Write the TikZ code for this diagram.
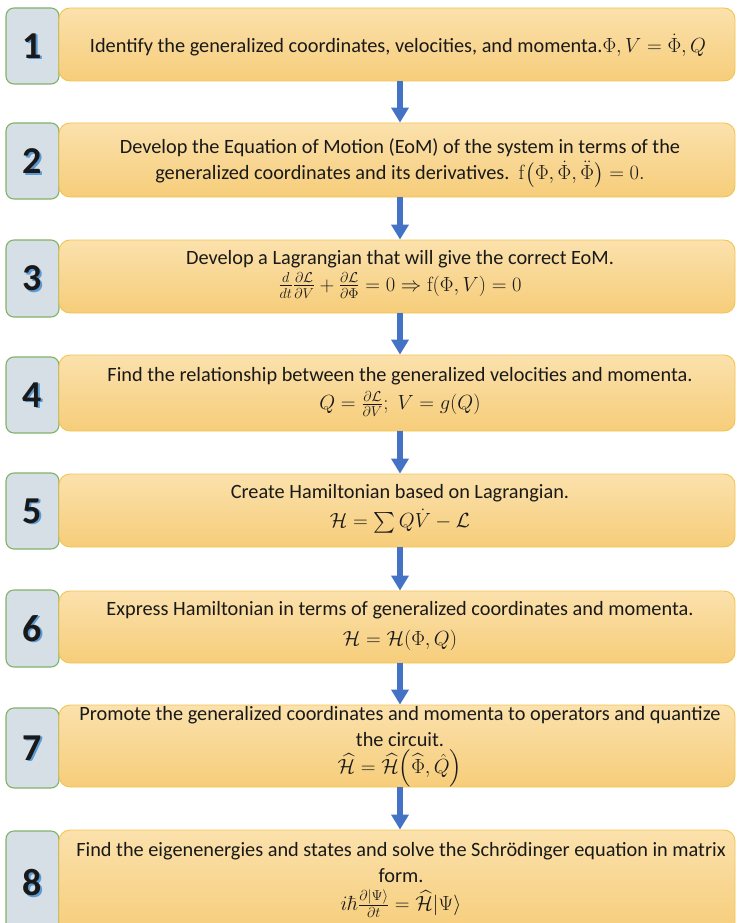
\RequirePackage{fix-cm}
\documentclass[tikz,border=0pt]{standalone}
\usepackage{exscale}
\usepackage[no-math]{fontspec}
\setmainfont{Carlito}
\usetikzlibrary{arrows.meta}

\definecolor{numfill}{RGB}{214,223,230}
\definecolor{numedge}{RGB}{130,178,104}
\definecolor{steptop}{RGB}{251,225,172}
\definecolor{stepbot}{RGB}{246,205,122}
\definecolor{stepedge}{RGB}{243,196,80}
\definecolor{flowblue}{RGB}{68,114,196}
\definecolor{digitshadow}{RGB}{91,155,213}
\definecolor{ink}{RGB}{25,25,25}

% formulas are set a little larger than the running text
\newcommand\eqn[1]{{\fontsize{20.5}{26}\selectfont$#1$}}

\tikzset{
  numbox/.style={draw=numedge, fill=numfill, line width=1.1pt, rounded corners=8pt,
                 minimum width=53pt, inner sep=0pt},
  stepbox/.style={draw=stepedge, top color=steptop, bottom color=stepbot, line width=0.9pt,
                  rounded corners=11pt, minimum width=676pt, inner sep=0pt},
  digit/.style={font=\fontsize{38}{38}\selectfont\bfseries, text=ink, inner sep=0pt},
  digitshade/.style={digit, text=digitshadow},
  steptext/.style={font=\fontsize{20.3}{26}\selectfont, text=ink, align=center, inner sep=0pt},
  flow/.style={draw=flowblue, line width=6pt, -{Triangle[width=17pt,length=15pt]}},
}

\begin{document}
\begin{tikzpicture}[x=1pt,y=-1pt]
\useasboundingbox (0,0) rectangle (736,923);

% number tabs
\node[numbox, minimum height=76pt] (n1) at (32.5,46) {};
\node[numbox, minimum height=76pt] (n2) at (32.5,161) {};
\node[numbox, minimum height=77pt] (n3) at (32.5,278.5) {};
\node[numbox, minimum height=76pt] (n4) at (32.5,395) {};
\node[numbox, minimum height=76pt] (n5) at (32.5,511) {};
\node[numbox, minimum height=77pt] (n6) at (32.5,628.5) {};
\node[numbox, minimum height=80pt] (n7) at (32.5,748) {};
\node[numbox, minimum height=103pt] (n8) at (32.5,882.5) {};

% step panels
\node[stepbox, minimum height=73pt] (t1) at (397,44.5) {};
\node[stepbox, minimum height=74pt] (t2) at (397,160) {};
\node[stepbox, minimum height=73pt] (t3) at (397,276.5) {};
\node[stepbox, minimum height=76pt] (t4) at (397,393) {};
\node[stepbox, minimum height=73pt] (t5) at (397,510.5) {};
\node[stepbox, minimum height=72pt] (t6) at (397,627) {};
\node[stepbox, minimum height=82pt] (t7) at (397,746) {};
\node[stepbox, minimum height=104pt] (t8) at (397,882) {};

% step numbers with their blue drop shadow
\foreach \k in {1,...,8}{
  \node[digitshade] (s\k) at ([xshift=1.6pt,yshift=-1.6pt]n\k.center) {\k};
  \node[digit] (d\k) at (n\k.center) {\k};
}

% step descriptions
\node[steptext] (l1) at (398,45)
  {Identify the generalized coordinates, velocities, and momenta.\eqn{\Phi, V=\dot{\Phi}, Q}};
\node[steptext] (l2) at (400,163)
  {Develop the Equation of Motion (EoM) of the system in terms of the\\
   generalized coordinates and its derivatives.\ \ \eqn{\mathrm{f}\!\left(\Phi,\dot{\Phi},\ddot{\Phi}\right)=0.}};
\node[steptext] (l3) at (400,274)
  {Develop a Lagrangian that will give the correct EoM.\\[1pt]
   \eqn{\frac{d}{dt}\frac{\partial\mathcal{L}}{\partial V}+\frac{\partial\mathcal{L}}{\partial\Phi}=0\Rightarrow\mathrm{f}(\Phi,V)=0}};
\node[steptext] (l4) at (400,392)
  {Find the relationship between the generalized velocities and momenta.\\[2pt]
   \eqn{Q=\frac{\partial\mathcal{L}}{\partial V};\;V=g(Q)}};
\node[steptext] (l5) at (400,509)
  {Create Hamiltonian based on Lagrangian.\\[3pt]
   \eqn{\mathcal{H}=\sum Q\dot{V}-\mathcal{L}}};
\node[steptext] (l6) at (400,626)
  {Express Hamiltonian in terms of generalized coordinates and momenta.\\[4pt]
   \eqn{\mathcal{H}=\mathcal{H}(\Phi,Q)}};
\node[steptext] (l7) at (400,747)
  {Promote the generalized coordinates and momenta to operators and quantize\\
   the circuit.\\[1pt]
   \eqn{\widehat{\mathcal{H}}=\widehat{\mathcal{H}}\!\left(\widehat{\Phi},\hat{Q}\right)}};
\node[steptext] (l8) at (401,880)
  {Find the eigenenergies and states and solve the Schrödinger equation in matrix\\
   form.\\[2pt]
   \eqn{i\hbar\frac{\partial|\Psi\rangle}{\partial t}=\widehat{\mathcal{H}}|\Psi\rangle}};

% flow arrows between consecutive steps
\foreach \a/\b in {1/2,2/3,3/4,4/5,5/6,6/7,7/8}{
  \draw[flow] ([xshift=3pt]t\a.south) -- ([xshift=3pt]t\b.north);
}
\end{tikzpicture}
\end{document}
